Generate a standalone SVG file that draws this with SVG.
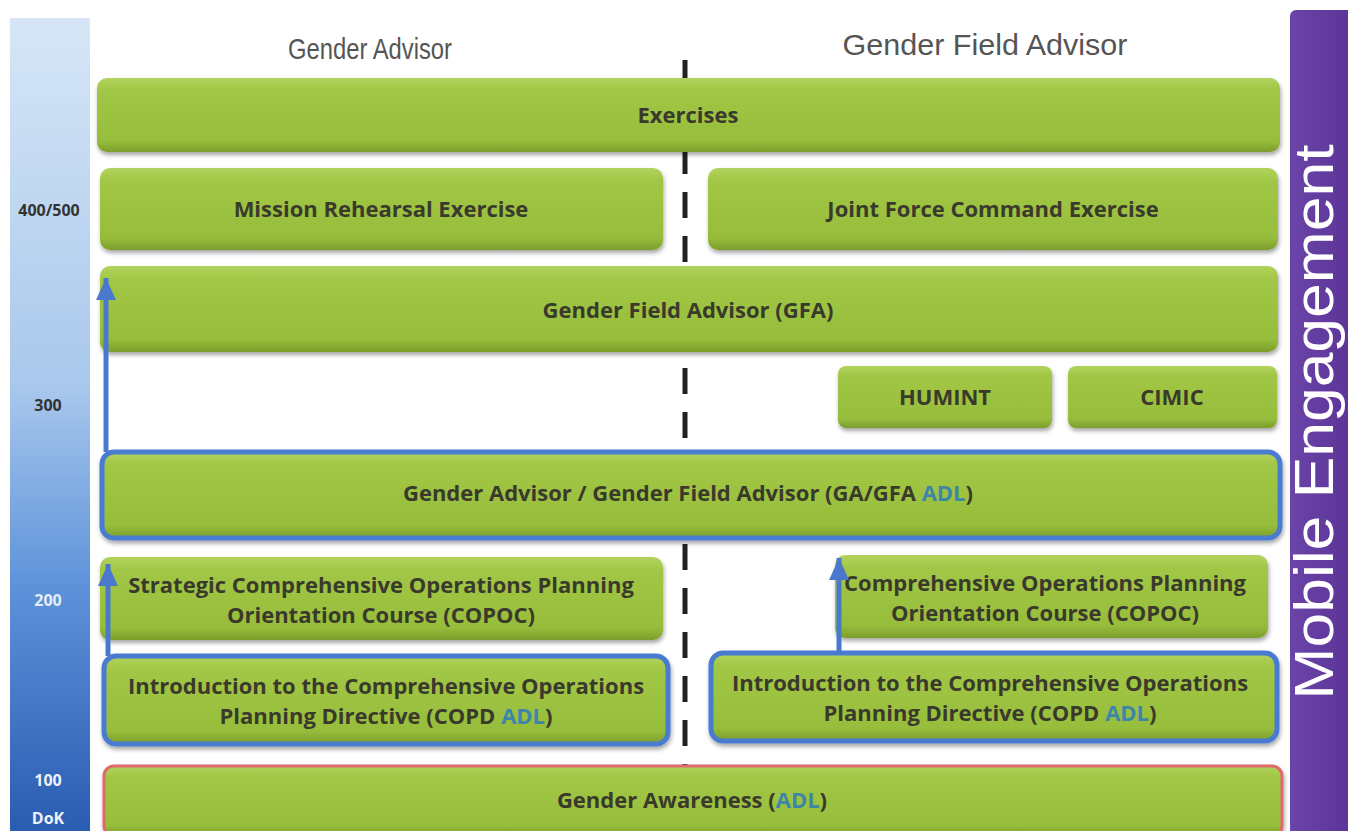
<svg xmlns="http://www.w3.org/2000/svg" width="1348" height="831" viewBox="0 0 1348 831">
<defs>
<linearGradient id="gGreen" x1="0" y1="0" x2="0" y2="1">
<stop offset="0" stop-color="#b2d35e"/>
<stop offset="0.15" stop-color="#a2c746"/>
<stop offset="0.85" stop-color="#97bd3c"/>
<stop offset="1" stop-color="#7c9e2c"/>
</linearGradient>
<linearGradient id="gBlue" x1="0" y1="0" x2="0" y2="1">
<stop offset="0" stop-color="#d6e6f6"/>
<stop offset="0.45" stop-color="#a9c8ec"/>
<stop offset="0.7" stop-color="#5d92da"/>
<stop offset="1" stop-color="#2a5cb0"/>
</linearGradient>
<linearGradient id="gPurple" x1="0" y1="0" x2="1" y2="0">
<stop offset="0" stop-color="#6a44a8"/>
<stop offset="1" stop-color="#5b3296"/>
</linearGradient>
<filter id="sh" x="-5%" y="-20%" width="110%" height="150%">
<feDropShadow dx="1" dy="3" stdDeviation="2" flood-color="#000" flood-opacity="0.35"/>
</filter>
<marker id="ah" viewBox="0 0 22 20" refX="22" refY="10" markerWidth="22" markerHeight="20" orient="auto" markerUnits="userSpaceOnUse">
<path d="M0,0 L22,10 L0,20 Z" fill="#4a78cc"/>
</marker>
</defs>
<style>
.box{fill:url(#gGreen);filter:url(#sh)}
.blueb{stroke:#4a7bd0;stroke-width:5}
.redb{stroke:#e06a6a;stroke-width:3}
.t{font-family:"Open Sans","Liberation Sans",sans-serif;font-weight:bold;font-size:22px;fill:#3a3a2c;text-anchor:middle}
.adl{fill:#3d86a8}
.hdr{font-family:"Liberation Sans",Arial,sans-serif;font-size:30px;fill:#555;text-anchor:middle}
.lvl{font-family:"Open Sans","Liberation Sans",sans-serif;font-weight:bold;font-size:16px;text-anchor:middle}
.arr{stroke:#4a78cc;stroke-width:5;fill:none;marker-end:url(#ah)}
</style>

<rect x="0" y="0" width="1348" height="831" fill="#ffffff"/>

<g id="dok-bar">
<rect x="10" y="18" width="80" height="813" fill="url(#gBlue)"/>
<text class="lvl" x="49" y="216" fill="#333">400/500</text>
<text class="lvl" x="48" y="411" fill="#333">300</text>
<text class="lvl" x="48" y="606" fill="#e4ecf8">200</text>
<text class="lvl" x="48" y="786" fill="#eef2fa">100</text>
<text class="lvl" x="48" y="824" fill="#eef2fa">DoK</text>
</g>

<g id="mobile-engagement">
<rect x="1290" y="10" width="70" height="830" rx="6" fill="url(#gPurple)"/>
<text x="1333" y="422" transform="rotate(-90 1333 422)" font-family="'Liberation Sans',Arial,sans-serif" font-size="56" fill="#ffffff" text-anchor="middle" textLength="555" lengthAdjust="spacingAndGlyphs">Mobile Engagement</text>
</g>

<g id="headers">
<text class="hdr" x="370" y="59" textLength="164" lengthAdjust="spacingAndGlyphs">Gender Advisor</text>
<text class="hdr" x="985" y="55" textLength="285" lengthAdjust="spacingAndGlyphs">Gender Field Advisor</text>
</g>

<g id="divider">
<line x1="685" y1="60" x2="685" y2="780" stroke="#222" stroke-width="5" stroke-dasharray="26 18"/>
</g>

<g id="n-exercises">
<rect class="box" x="97" y="78" width="1183" height="74" rx="10"/>
<text class="t" x="688" y="123">Exercises</text>
</g>
<g id="n-mre">
<rect class="box" x="100" y="168" width="563" height="82" rx="10"/>
<text class="t" x="381" y="217">Mission Rehearsal Exercise</text>
</g>
<g id="n-jfce">
<rect class="box" x="708" y="168" width="570" height="82" rx="10"/>
<text class="t" x="993" y="217">Joint Force Command Exercise</text>
</g>
<g id="n-gfa">
<rect class="box" x="100" y="266" width="1178" height="86" rx="10"/>
<text class="t" x="688" y="318">Gender Field Advisor (GFA)</text>
</g>
<g id="n-humint">
<rect class="box" x="838" y="366" width="214" height="62" rx="8"/>
<text class="t" x="945" y="405">HUMINT</text>
</g>
<g id="n-cimic">
<rect class="box" x="1068" y="366" width="209" height="62" rx="8"/>
<text class="t" x="1172" y="405">CIMIC</text>
</g>
<g id="n-gagfa">
<rect class="box blueb" x="102" y="452" width="1178" height="86" rx="12"/>
<text class="t" x="688" y="501">Gender Advisor / Gender Field Advisor (GA/GFA <tspan class="adl">ADL</tspan>)</text>
</g>
<g id="n-scopoc">
<rect class="box" x="100" y="557" width="563" height="83" rx="10"/>
<text class="t" x="381" y="593">Strategic Comprehensive Operations Planning</text>
<text class="t" x="381" y="623">Orientation Course (COPOC)</text>
</g>
<g id="n-copoc">
<rect class="box" x="835" y="555" width="433" height="83" rx="10"/>
<text class="t" x="1045" y="591">Comprehensive Operations Planning</text>
<text class="t" x="1045" y="621">Orientation Course (COPOC)</text>
</g>
<g id="n-copd-left">
<rect class="box blueb" x="104" y="656" width="564" height="88" rx="12"/>
<text class="t" x="386" y="694">Introduction to the Comprehensive Operations</text>
<text class="t" x="386" y="724">Planning Directive (COPD <tspan class="adl">ADL</tspan>)</text>
</g>
<g id="n-copd-right">
<rect class="box blueb" x="711" y="653" width="566" height="88" rx="12"/>
<text class="t" x="990" y="691">Introduction to the Comprehensive Operations</text>
<text class="t" x="990" y="721">Planning Directive (COPD <tspan class="adl">ADL</tspan>)</text>
</g>
<g id="n-awareness">
<rect class="box redb" x="104" y="766" width="1178" height="70" rx="10"/>
<text class="t" x="692" y="808">Gender Awareness (<tspan class="adl">ADL</tspan>)</text>
</g>

<g id="connectors">
<line class="arr" x1="106" y1="452" x2="106" y2="278"/>
<line class="arr" x1="108" y1="656" x2="108" y2="564"/>
<line class="arr" x1="839" y1="653" x2="839" y2="558"/>
</g>
</svg>
